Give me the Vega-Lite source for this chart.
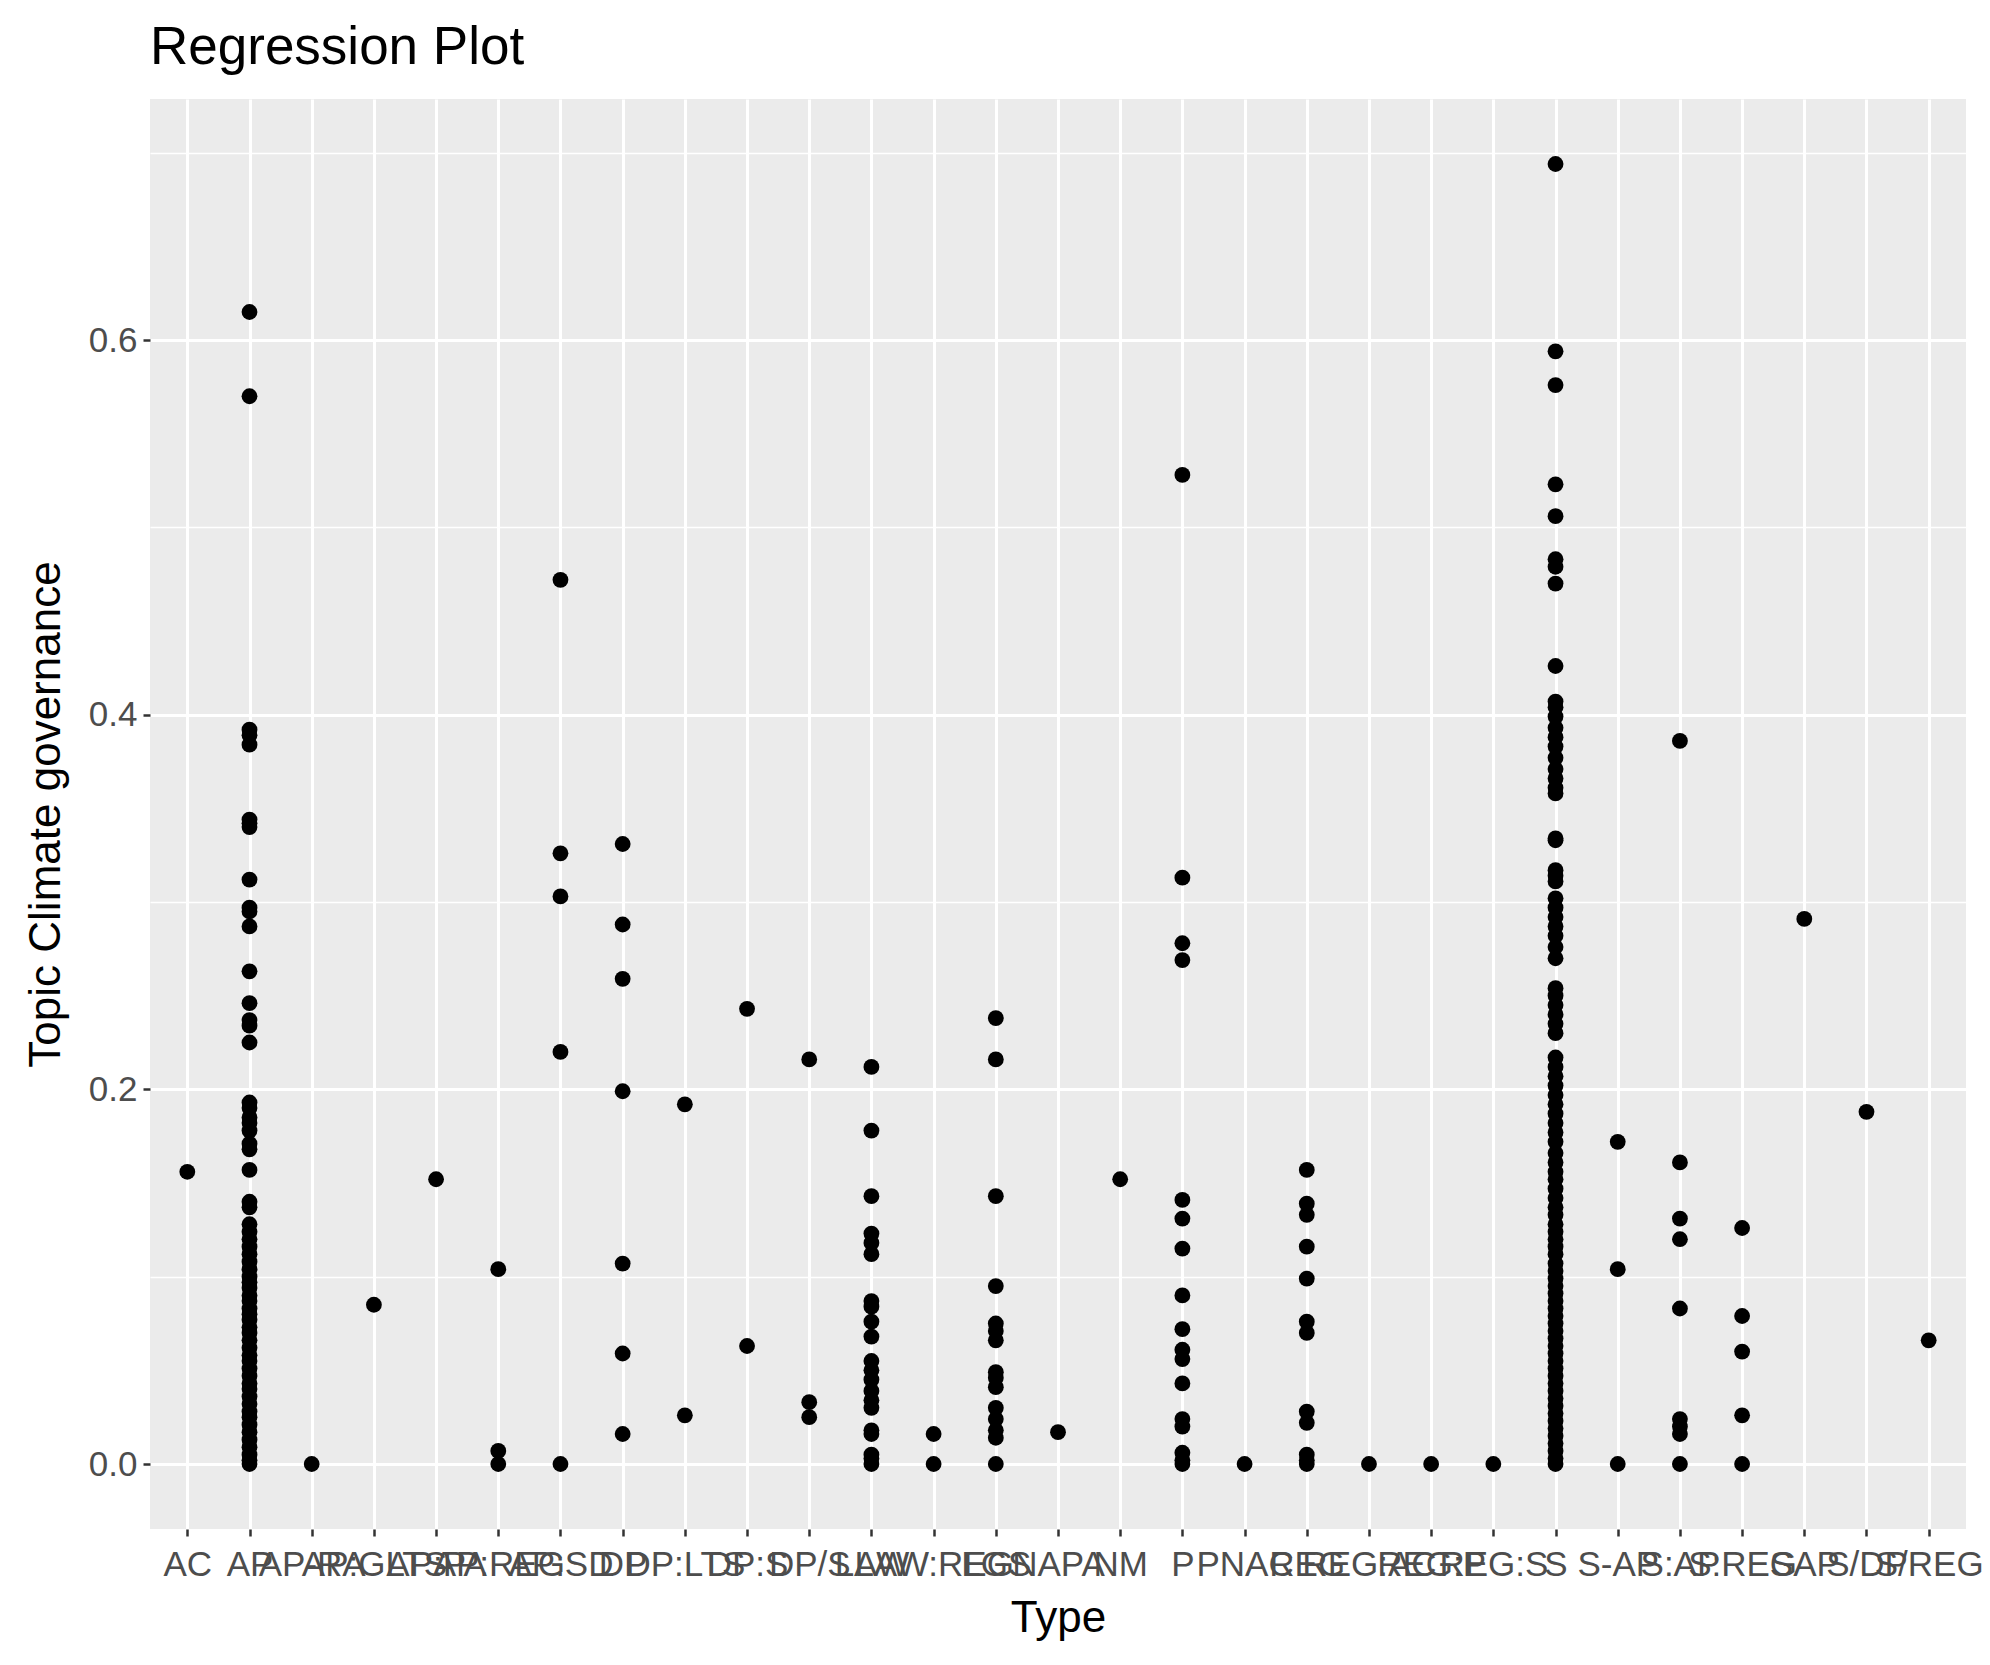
{
  "$schema": "https://vega.github.io/schema/vega-lite/v6.json",
  "width": 1816,
  "height": 1430,
  "autosize": {"type": "none"},
  "padding": {"left": 150, "top": 99, "right": 24, "bottom": 136},
  "background": "white",
  "title": {"text": "Regression Plot", "anchor": "start", "frame": "group", "fontSize": 53, "font": "Liberation Sans", "fontWeight": "normal", "color": "black", "offset": 24},
  "config": {"view": {"fill": "#EBEBEB", "stroke": null}, "font": "Liberation Sans"},
  "data": {"values": [
    {"Type":"AC","value":0.156},
    {"Type":"AP","value":0.615},{"Type":"AP","value":0.570},{"Type":"AP","value":0.392},{"Type":"AP","value":0.389},{"Type":"AP","value":0.384},{"Type":"AP","value":0.344},{"Type":"AP","value":0.342},{"Type":"AP","value":0.340},{"Type":"AP","value":0.312},{"Type":"AP","value":0.297},{"Type":"AP","value":0.295},{"Type":"AP","value":0.287},{"Type":"AP","value":0.263},{"Type":"AP","value":0.246},{"Type":"AP","value":0.237},{"Type":"AP","value":0.234},{"Type":"AP","value":0.225},{"Type":"AP","value":0.193},{"Type":"AP","value":0.190},{"Type":"AP","value":0.185},{"Type":"AP","value":0.182},{"Type":"AP","value":0.178},{"Type":"AP","value":0.171},{"Type":"AP","value":0.168},{"Type":"AP","value":0.157},{"Type":"AP","value":0.140},{"Type":"AP","value":0.137},{"Type":"AP","value":0.128},{"Type":"AP","value":0.124},{"Type":"AP","value":0.120},{"Type":"AP","value":0.116},{"Type":"AP","value":0.112},{"Type":"AP","value":0.108},{"Type":"AP","value":0.104},{"Type":"AP","value":0.100},{"Type":"AP","value":0.097},{"Type":"AP","value":0.094},{"Type":"AP","value":0.090},{"Type":"AP","value":0.087},{"Type":"AP","value":0.083},{"Type":"AP","value":0.080},{"Type":"AP","value":0.077},{"Type":"AP","value":0.073},{"Type":"AP","value":0.070},{"Type":"AP","value":0.066},{"Type":"AP","value":0.062},{"Type":"AP","value":0.058},{"Type":"AP","value":0.055},{"Type":"AP","value":0.051},{"Type":"AP","value":0.047},{"Type":"AP","value":0.043},{"Type":"AP","value":0.040},{"Type":"AP","value":0.036},{"Type":"AP","value":0.032},{"Type":"AP","value":0.028},{"Type":"AP","value":0.025},{"Type":"AP","value":0.021},{"Type":"AP","value":0.017},{"Type":"AP","value":0.013},{"Type":"AP","value":0.009},{"Type":"AP","value":0.005},{"Type":"AP","value":0.002},{"Type":"AP","value":0.0},
    {"Type":"AP-RA","value":0.0},
    {"Type":"AP:GLTS","value":0.085},
    {"Type":"AP:PA","value":0.152},
    {"Type":"AP:REG","value":0.104},{"Type":"AP:REG","value":0.007},{"Type":"AP:REG","value":0.0},
    {"Type":"AP:SD","value":0.472},{"Type":"AP:SD","value":0.326},{"Type":"AP:SD","value":0.303},{"Type":"AP:SD","value":0.220},{"Type":"AP:SD","value":0.0},
    {"Type":"DP","value":0.331},{"Type":"DP","value":0.288},{"Type":"DP","value":0.259},{"Type":"DP","value":0.199},{"Type":"DP","value":0.107},{"Type":"DP","value":0.059},{"Type":"DP","value":0.016},
    {"Type":"DP:LTS","value":0.192},{"Type":"DP:LTS","value":0.026},
    {"Type":"DP:S","value":0.243},{"Type":"DP:S","value":0.063},
    {"Type":"DP/S","value":0.216},{"Type":"DP/S","value":0.033},{"Type":"DP/S","value":0.025},
    {"Type":"LAW","value":0.212},{"Type":"LAW","value":0.178},{"Type":"LAW","value":0.143},{"Type":"LAW","value":0.123},{"Type":"LAW","value":0.118},{"Type":"LAW","value":0.112},{"Type":"LAW","value":0.087},{"Type":"LAW","value":0.084},{"Type":"LAW","value":0.076},{"Type":"LAW","value":0.068},{"Type":"LAW","value":0.055},{"Type":"LAW","value":0.050},{"Type":"LAW","value":0.045},{"Type":"LAW","value":0.039},{"Type":"LAW","value":0.034},{"Type":"LAW","value":0.030},{"Type":"LAW","value":0.018},{"Type":"LAW","value":0.016},{"Type":"LAW","value":0.005},{"Type":"LAW","value":0.003},{"Type":"LAW","value":0.0},
    {"Type":"LAW:REG","value":0.016},{"Type":"LAW:REG","value":0.0},
    {"Type":"LGS","value":0.238},{"Type":"LGS","value":0.216},{"Type":"LGS","value":0.143},{"Type":"LGS","value":0.095},{"Type":"LGS","value":0.075},{"Type":"LGS","value":0.071},{"Type":"LGS","value":0.066},{"Type":"LGS","value":0.049},{"Type":"LGS","value":0.046},{"Type":"LGS","value":0.041},{"Type":"LGS","value":0.030},{"Type":"LGS","value":0.024},{"Type":"LGS","value":0.018},{"Type":"LGS","value":0.014},{"Type":"LGS","value":0.0},
    {"Type":"NAPA","value":0.017},
    {"Type":"NM","value":0.152},
    {"Type":"P","value":0.528},{"Type":"P","value":0.313},{"Type":"P","value":0.278},{"Type":"P","value":0.269},{"Type":"P","value":0.141},{"Type":"P","value":0.131},{"Type":"P","value":0.115},{"Type":"P","value":0.090},{"Type":"P","value":0.072},{"Type":"P","value":0.061},{"Type":"P","value":0.056},{"Type":"P","value":0.043},{"Type":"P","value":0.024},{"Type":"P","value":0.020},{"Type":"P","value":0.006},{"Type":"P","value":0.002},{"Type":"P","value":0.0},
    {"Type":"PNAC","value":0.0},
    {"Type":"REG","value":0.157},{"Type":"REG","value":0.139},{"Type":"REG","value":0.133},{"Type":"REG","value":0.116},{"Type":"REG","value":0.099},{"Type":"REG","value":0.076},{"Type":"REG","value":0.070},{"Type":"REG","value":0.028},{"Type":"REG","value":0.022},{"Type":"REG","value":0.005},{"Type":"REG","value":0.002},{"Type":"REG","value":0.0},
    {"Type":"REG:AC","value":0.0},
    {"Type":"REG:P","value":0.0},
    {"Type":"REG:S","value":0.0},
    {"Type":"S","value":0.694},{"Type":"S","value":0.594},{"Type":"S","value":0.576},{"Type":"S","value":0.523},{"Type":"S","value":0.506},{"Type":"S","value":0.483},{"Type":"S","value":0.479},{"Type":"S","value":0.470},{"Type":"S","value":0.426},{"Type":"S","value":0.407},{"Type":"S","value":0.404},{"Type":"S","value":0.399},{"Type":"S","value":0.393},{"Type":"S","value":0.388},{"Type":"S","value":0.383},{"Type":"S","value":0.377},{"Type":"S","value":0.371},{"Type":"S","value":0.366},{"Type":"S","value":0.361},{"Type":"S","value":0.358},{"Type":"S","value":0.334},{"Type":"S","value":0.333},{"Type":"S","value":0.317},{"Type":"S","value":0.314},{"Type":"S","value":0.311},{"Type":"S","value":0.302},{"Type":"S","value":0.297},{"Type":"S","value":0.292},{"Type":"S","value":0.287},{"Type":"S","value":0.282},{"Type":"S","value":0.276},{"Type":"S","value":0.270},{"Type":"S","value":0.254},{"Type":"S","value":0.250},{"Type":"S","value":0.245},{"Type":"S","value":0.240},{"Type":"S","value":0.235},{"Type":"S","value":0.230},{"Type":"S","value":0.217},{"Type":"S","value":0.212},{"Type":"S","value":0.207},{"Type":"S","value":0.202},{"Type":"S","value":0.197},{"Type":"S","value":0.192},{"Type":"S","value":0.187},{"Type":"S","value":0.182},{"Type":"S","value":0.177},{"Type":"S","value":0.172},{"Type":"S","value":0.166},{"Type":"S","value":0.161},{"Type":"S","value":0.156},{"Type":"S","value":0.152},{"Type":"S","value":0.147},{"Type":"S","value":0.142},{"Type":"S","value":0.137},{"Type":"S","value":0.133},{"Type":"S","value":0.128},{"Type":"S","value":0.124},{"Type":"S","value":0.120},{"Type":"S","value":0.116},{"Type":"S","value":0.112},{"Type":"S","value":0.107},{"Type":"S","value":0.103},{"Type":"S","value":0.099},{"Type":"S","value":0.095},{"Type":"S","value":0.091},{"Type":"S","value":0.087},{"Type":"S","value":0.083},{"Type":"S","value":0.079},{"Type":"S","value":0.075},{"Type":"S","value":0.071},{"Type":"S","value":0.067},{"Type":"S","value":0.063},{"Type":"S","value":0.059},{"Type":"S","value":0.055},{"Type":"S","value":0.051},{"Type":"S","value":0.047},{"Type":"S","value":0.043},{"Type":"S","value":0.039},{"Type":"S","value":0.035},{"Type":"S","value":0.031},{"Type":"S","value":0.027},{"Type":"S","value":0.023},{"Type":"S","value":0.019},{"Type":"S","value":0.015},{"Type":"S","value":0.011},{"Type":"S","value":0.007},{"Type":"S","value":0.003},{"Type":"S","value":0.0},
    {"Type":"S-AP","value":0.172},{"Type":"S-AP","value":0.104},{"Type":"S-AP","value":0.0},
    {"Type":"S:AP","value":0.386},{"Type":"S:AP","value":0.161},{"Type":"S:AP","value":0.131},{"Type":"S:AP","value":0.120},{"Type":"S:AP","value":0.083},{"Type":"S:AP","value":0.024},{"Type":"S:AP","value":0.020},{"Type":"S:AP","value":0.016},{"Type":"S:AP","value":0.0},
    {"Type":"S:REG","value":0.126},{"Type":"S:REG","value":0.079},{"Type":"S:REG","value":0.060},{"Type":"S:REG","value":0.026},{"Type":"S:REG","value":0.0},
    {"Type":"SAP","value":0.291},
    {"Type":"S/DP","value":0.188},
    {"Type":"S/REG","value":0.066}
  ]},
  "layer": [
    {
      "mark": {"type": "point", "opacity": 0},
      "encoding": {
        "x": {"field": "Type", "type": "nominal", "scale": {"type": "point", "padding": 0.6, "domain": ["AC","AP","AP-RA","AP:GLTS","AP:PA","AP:REG","AP:SD","DP","DP:LTS","DP:S","DP/S","LAW","LAW:REG","LGS","NAPA","NM","P","PNAC","REG","REG:AC","REG:P","REG:S","S","S-AP","S:AP","S:REG","SAP","S/DP","S/REG"]}, "axis": null},
        "y": {"field": "value", "type": "quantitative", "scale": {"domain": [-0.0347, 0.7287], "nice": false, "zero": false},
          "axis": {"values": [0.1, 0.3, 0.5, 0.7], "grid": true, "gridColor": "white", "gridWidth": 1.5, "labels": false, "ticks": false, "domain": false, "title": null, "orient": "right"}}
      }
    },
    {
      "mark": {"type": "circle", "color": "black", "opacity": 1, "size": 250},
      "encoding": {
        "x": {"field": "Type", "type": "nominal", "sort": null,
          "axis": {"title": "Type", "labelAngle": 0, "labelOverlap": false, "labelFontSize": 35, "labelColor": "#4D4D4D", "labelFont": "Liberation Sans", "labelPadding": 11, "tickColor": "#333333", "tickSize": 7, "tickWidth": 2.5, "domain": false, "grid": true, "gridColor": "white", "gridWidth": 3, "titleFontSize": 44, "titleFontWeight": "normal", "titleColor": "black", "titlePadding": 14, "titleFont": "Liberation Sans"}},
        "y": {"field": "value", "type": "quantitative",
          "axis": {"title": "Topic Climate governance", "values": [0, 0.2, 0.4, 0.6], "format": ".1f", "labelFontSize": 35, "labelColor": "#4D4D4D", "labelFont": "Liberation Sans", "labelPadding": 6, "tickColor": "#333333", "tickSize": 7, "tickWidth": 2.5, "domain": false, "grid": true, "gridColor": "white", "gridWidth": 3, "titleFontSize": 44, "titleFontWeight": "normal", "titleColor": "black", "titlePadding": 20, "titleFont": "Liberation Sans"}}
      }
    }
  ],
  "resolve": {"axis": {"y": "independent", "x": "independent"}}
}
